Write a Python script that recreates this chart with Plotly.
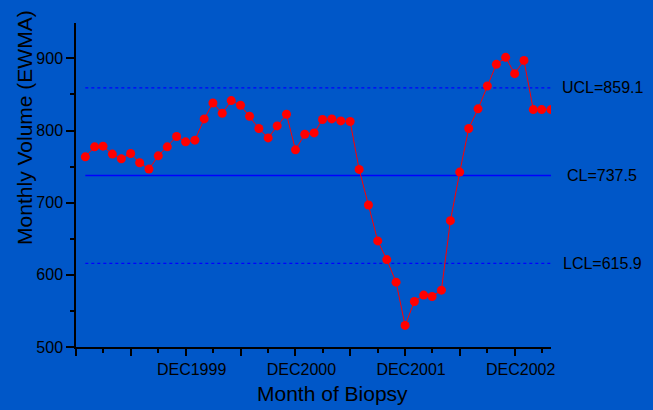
import pandas as pd
import plotly.graph_objects as go

BG = '#0057C8'
FONT = 'Liberation Sans, Arial, sans-serif'

# monthly EWMA values, Jan 1999 .. Apr 2003
months = pd.date_range('1999-01-01', periods=52, freq='MS')
ewma = [
    763.5, 777.4, 778.3, 767.3, 760.8, 768.2, 755.3, 746.5, 764.9, 777.4, 791.7, 784.3,
    786.6, 816.1, 838.2, 824.0, 841.5, 835.0, 819.8, 802.8, 789.8, 806.4, 822.6, 773.2,
    794.9, 796.7, 815.2, 816.1, 813.3, 812.5, 746.1, 696.8, 647.0, 621.1, 589.9, 529.9,
    563.1, 571.9, 570.0, 578.8, 675.1, 742.4, 802.8, 830.0, 861.7, 891.7, 901.4, 878.8,
    897.2, 829.0, 829.0, 829.0,
]

limit_names = ['UCL', 'CL', 'LCL']
limit_values = [859.1, 737.5, 615.9]
limit_dash = ['dot', 'solid', 'dot']

tick_dates = ['1998-12-01', '1999-06-01', '1999-12-01', '2000-06-01', '2000-12-01',
              '2001-06-01', '2001-12-01', '2002-06-01', '2002-12-01']
tick_labels = ['', '', 'DEC1999', '', 'DEC2000', '', 'DEC2001', '', 'DEC2002']

fig = go.Figure()

for name, val, dash in zip(limit_names, limit_values, limit_dash):
    fig.add_trace(go.Scatter(
        x=[months[0], months[-1]], y=[val, val], mode='lines',
        line=dict(color='#0000FF', width=1.5 if dash == 'solid' else 1.2, dash=dash),
        hoverinfo='skip', showlegend=False
    ))
    fig.add_annotation(
        x=1.1077, xref='paper', y=val, yref='y', text=f'{name}={val}',
        showarrow=False, xanchor='center', yanchor='middle',
        font=dict(size=16, color='black', family=FONT)
    )

fig.add_trace(go.Scatter(
    x=months, y=ewma, mode='lines+markers',
    line=dict(color='#FF0000', width=1),
    marker=dict(color='#FF0000', size=9),
    showlegend=False
))

fig.add_annotation(
    x=-0.109, xref='paper', y=0.677, yref='paper', text='Monthly Volume (EWMA)',
    textangle=-90, showarrow=False, xanchor='center', yanchor='middle',
    font=dict(size=21, color='black', family=FONT)
)
fig.add_annotation(
    x=0.54, xref='paper', y=-0.143, yref='paper', text='Month of Biopsy',
    showarrow=False, xanchor='center', yanchor='middle',
    font=dict(size=21, color='black', family=FONT)
)

fig.update_xaxes(
    range=['1998-12-01', '2003-04-01'],
    tickmode='array', tickvals=tick_dates, ticktext=tick_labels,
    ticks='outside', ticklen=7, tickwidth=1.5, tickcolor='black',
    ticklabelshift=6,
    showline=True, linecolor='black', linewidth=1.5,
    showgrid=False, zeroline=False,
    tickfont=dict(size=16, color='black', family=FONT),
    minor=dict(tickmode='linear', tick0='1998-12-01', dtick='M3',
               ticks='outside', ticklen=4, tickcolor='black', tickwidth=1.5, showgrid=False)
)
fig.update_yaxes(
    range=[500, 949],
    tickmode='linear', tick0=500, dtick=100,
    ticks='outside', ticklen=8, tickwidth=1.5, tickcolor='black',
    showline=True, linecolor='black', linewidth=1.5,
    showgrid=False, zeroline=False,
    tickfont=dict(size=16, color='black', family=FONT),
    minor=dict(tickmode='linear', tick0=550, dtick=100,
               ticks='outside', ticklen=4, tickcolor='black', tickwidth=1.5, showgrid=False)
)

fig.update_layout(
    width=653, height=410,
    margin=dict(l=76, r=102, t=23, b=63),
    paper_bgcolor=BG, plot_bgcolor=BG,
    font=dict(family=FONT, color='black'),
    showlegend=False
)

# drop the browser's default body margin so the figure fills the window
fig.write_html('out.html', config={'displayModeBar': False},
               post_script="document.body.style.margin='0';document.body.style.overflow='hidden';")
